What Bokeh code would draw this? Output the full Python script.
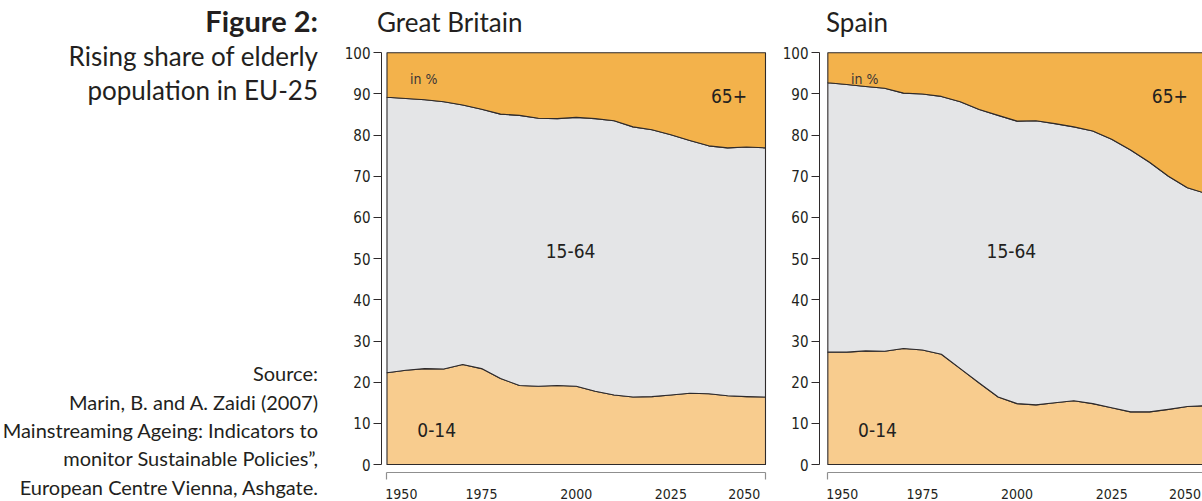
from bokeh.plotting import figure
from bokeh.models import Range1d, FixedTicker, Label, Div
from bokeh.layouts import row, column
from bokeh.embed import file_html
from bokeh.resources import INLINE
import numpy as np

# ---------------- data (shares of population, in %) ----------------
years = list(range(1950, 2051, 5))

gb_age_0_14 = [22.3, 22.9, 23.3, 23.2, 24.3, 23.3, 20.9, 19.2, 19.0, 19.2, 19.0,
               17.8, 16.9, 16.4, 16.5, 16.9, 17.3, 17.2, 16.7, 16.5, 16.4]
gb_age_15_64 = [66.9, 66.0, 65.3, 64.9, 63.0, 63.0, 64.2, 65.6, 65.1, 64.8, 65.3,
                66.2, 66.6, 65.6, 64.8, 63.2, 61.4, 60.2, 60.2, 60.6, 60.5]
gb_age_65p = [10.8, 11.1, 11.4, 11.9, 12.7, 13.7, 14.9, 15.2, 15.9, 16.0, 15.7,
              16.0, 16.5, 18.0, 18.7, 19.9, 21.3, 22.6, 23.1, 22.9, 23.1]

es_age_0_14 = [27.3, 27.3, 27.6, 27.5, 28.2, 27.8, 26.8, 23.3, 19.8, 16.4, 14.8,
               14.5, 15.0, 15.5, 14.8, 13.8, 12.8, 12.8, 13.4, 14.1, 14.3]
es_age_15_64 = [65.4, 65.0, 64.2, 63.9, 62.0, 62.2, 62.6, 64.8, 66.4, 68.4, 68.6,
                69.0, 67.8, 66.5, 66.2, 65.2, 63.6, 60.6, 56.6, 53.1, 51.5]
es_age_65p = [7.3, 7.7, 8.2, 8.6, 9.8, 10.0, 10.6, 11.9, 13.8, 15.2, 16.6,
              16.5, 17.2, 18.0, 19.0, 21.0, 23.6, 26.6, 30.0, 32.8, 34.2]

y_ticks = [0, 10, 20, 30, 40, 50, 60, 70, 80, 90, 100]
x_tick_labels = [1950, 1975, 2000, 2025, 2050]
band_names = ["0-14", "15-64", "65+"]
panel_titles = ["Great Britain", "Spain"]

# ---------------- styles ----------------
C_YOUNG = "#F8CC8E"
C_WORK = "#E4E5E7"
C_OLD = "#F3B24B"
C_LINE = "#2e2a2b"
C_TEXT = "#231f20"
C_BRACKET = "#8f8f8f"
SERIF = "Lato"
NARROW = "DejaVu Sans Condensed"

H = 501
TITLE_H = 40
PLOT_H = H - TITLE_H


def lato_line(text, left=None, right=None, base=0, size=20, weight="normal"):
    top = base - 0.887 * size  # Lato: baseline sits 0.887em below line top at line-height 1
    side = f"left:{left}px;" if left is not None else f"right:{right}px;"
    return (f'<div style="position:absolute;{side}top:{top:.1f}px;'
            f'font-size:{size}px;line-height:{size}px;font-weight:{weight};'
            f'white-space:nowrap;">{text}</div>')


def area_panel(young, work, old, width, border_left, border_right, x_start, x_end):
    p = figure(width=width, height=PLOT_H, output_backend="svg", toolbar_location=None,
               x_range=Range1d(x_start, x_end), y_range=Range1d(-1.93, 100.55),
               min_border_left=border_left, min_border_right=border_right,
               min_border_top=10, min_border_bottom=26,
               x_axis_location="below", y_axis_location="left")
    p.outline_line_color = None
    p.grid.visible = False
    p.background_fill_color = "white"
    p.border_fill_color = "white"

    b1 = np.array(young, dtype=float)
    b2 = b1 + np.array(work, dtype=float)
    b3 = b2 + np.array(old, dtype=float)
    zero = np.zeros_like(b1)
    xs = years + years[::-1]
    for lo, hi, col in [(zero, b1, C_YOUNG), (b1, b2, C_WORK), (b2, b3, C_OLD)]:
        p.patch(x=xs, y=list(hi) + list(lo[::-1]), fill_color=col,
                line_color=C_LINE, line_width=1.1, line_join="round")

    # y axis
    ya = p.yaxis[0]
    ya.ticker = FixedTicker(ticks=y_ticks)
    ya.bounds = (0, 100)
    ya.axis_line_color = C_LINE
    ya.axis_line_width = 1
    ya.major_tick_line_color = C_LINE
    ya.major_tick_out = 8
    ya.major_tick_in = 0
    ya.minor_tick_line_color = None
    ya.major_label_standoff = 3
    ya.major_label_text_font = NARROW
    ya.major_label_text_font_size = "15px"
    ya.major_label_text_color = C_TEXT

    # x axis: grey bracket (end ticks) + year labels, end labels tucked inside
    label_pos = [float(v) for v in x_tick_labels]
    label_pos[0] += 3.8
    label_pos[-1] -= 5.6
    xa = p.xaxis[0]
    xa.ticker = FixedTicker(ticks=label_pos, minor_ticks=[years[0], years[-1]])
    xa.bounds = (years[0], years[-1])
    xa.axis_line_color = C_BRACKET
    xa.axis_line_width = 1.2
    xa.major_tick_out = 0
    xa.major_tick_in = 0
    xa.major_tick_line_color = None
    xa.minor_tick_line_color = C_BRACKET
    xa.minor_tick_line_width = 1.2
    xa.minor_tick_out = 7
    xa.minor_tick_in = 0
    xa.major_label_standoff = 9
    xa.major_label_overrides = {pos: str(lab) for pos, lab in zip(label_pos, x_tick_labels)}
    xa.major_label_text_font = NARROW
    xa.major_label_text_font_size = "14px"
    xa.major_label_text_color = C_TEXT

    # in-chart annotations
    p.add_layout(Label(x=1956.1, y=93.7, text="in %", text_font=NARROW,
                       text_font_size="14px", text_color="#3a3536",
                       text_baseline="alphabetic"))
    p.add_layout(Label(x=2035.6, y=89.6, text=band_names[2], text_font=NARROW,
                       text_font_size="19px", text_color=C_TEXT,
                       text_baseline="alphabetic"))
    p.add_layout(Label(x=1998.5, y=51.9, text=band_names[1], text_font=NARROW,
                       text_font_size="19px", text_color=C_TEXT, text_align="center",
                       text_baseline="alphabetic"))
    p.add_layout(Label(x=1958.0, y=8.45, text=band_names[0], text_font=NARROW,
                       text_font_size="19px", text_color=C_TEXT,
                       text_baseline="alphabetic"))
    return p


gb = area_panel(gb_age_0_14, gb_age_15_64, gb_age_65p,
                width=435, border_left=41, border_right=8,
                x_start=1948.55, x_end=2050.53)
es = area_panel(es_age_0_14, es_age_15_64, es_age_65p,
                width=427, border_left=44, border_right=0,
                x_start=1947.8, x_end=2049.0)

# ---------------- panel titles ----------------
titles_html = ('<div style="position:relative;width:862px;height:40px;'
               f'font-family:Lato;color:{C_TEXT};">'
               + lato_line(panel_titles[0], left=37, base=32, size=26)
               + lato_line(panel_titles[1], left=486, base=32, size=26)
               + '</div>')
titles = Div(text=titles_html, width=862, height=TITLE_H, margin=(0, 0, 0, 0))

# ---------------- left text panel ----------------
heading = [("Figure 2:", "bold", 29, 32),
           ("Rising share of elderly", "normal", 26, 66),
           ("population in EU-25", "normal", 26, 100)]
source = ["Source:",
          "Marin, B. and A. Zaidi (2007)",
          "Mainstreaming Ageing: Indicators to",
          "monitor Sustainable Policies\u201d,",
          "European Centre Vienna, Ashgate."]
source_base = [381, 410, 438, 466, 495]
SOURCE_SIZE = 20

entries = heading + [(t, "normal", SOURCE_SIZE, b) for t, b in zip(source, source_base)]
rows_html = [lato_line(t, right=22, base=b, size=s, weight=w) for t, w, s, b in entries]
html = ('<div style="position:relative;width:340px;height:501px;'
        f'font-family:Lato;color:{C_TEXT};">' + "".join(rows_html) + '</div>')
left = Div(text=html, width=340, height=H, margin=(0, 0, 0, 0))

layout = row(left, column(titles, row(gb, es)))
open("out.html", "w").write(file_html(layout, INLINE))
